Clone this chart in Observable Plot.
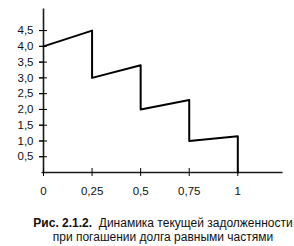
<!DOCTYPE html>
<html><head><meta charset="utf-8">
<script src="https://cdn.jsdelivr.net/npm/d3@7"></script>
<script src="https://cdn.jsdelivr.net/npm/@observablehq/plot@0.6"></script>
<style>
body{margin:0;background:#fff;font-family:"Liberation Sans",Arial,sans-serif;}
#cap{width:260px;text-align:center;font-size:12px;line-height:14px;color:#111;margin-top:16px;margin-left:33px;white-space:nowrap;}
</style></head><body>
<div id="chart"></div>
<div id="cap"><b>Рис. 2.1.2.</b>&nbsp; Динамика текущей задолженности<br>при погашении долга равными частями</div>
<script>
const xs = [0, 0.25, 0.25, 0.5, 0.5, 0.75, 0.75, 1, 1];
const ys = [4.0, 4.5, 3.0, 3.4, 2.0, 2.3, 1.0, 1.15, 0];
const yTicks = [0.5, 1, 1.5, 2, 2.5, 3, 3.5, 4, 4.5];
const yLabels = ["0,5","1,0","1,5","2,0","2,5","3,0","3,5","4,0","4,5"];
const xTicks = [0, 0.25, 0.5, 0.75, 1];
const xLabels = ["0","0,25","0,5","0,75","1"];
const xDomain = [0, 1.23];
const yDomain = [0, 5.2];
const data = xs.map((x,i)=>({x, y: ys[i]}));
const axes = [
  {x1: xDomain[0], y1: yDomain[0], x2: xDomain[0], y2: yDomain[1]},
  {x1: -0.01, y1: yDomain[0], x2: xDomain[1], y2: yDomain[0]}
];
const chart = Plot.plot({
  width: 294, height: 200,
  marginLeft: 43, marginRight: 12, marginTop: 8, marginBottom: 28,
  x: {domain: xDomain, label: null},
  y: {domain: yDomain, label: null},
  style: {fontFamily: '"Liberation Sans", Arial, sans-serif', fontSize: "11.5px", color: "#111"},
  marks: [
    Plot.link(axes, {x1: "x1", y1: "y1", x2: "x2", y2: "y2", stroke: "#1a1a1a", strokeWidth: 1.6}),
    Plot.axisY(yTicks, {tickSize: 4, tickFormat: (d,i)=>yLabels[i], tickPadding: 6, stroke: "#000", label: null}),
    Plot.axisY(yTicks, {tickSize: 8, dx: 4, text: null, stroke: "#000", label: null}),
    Plot.axisX(xTicks, {tickSize: 8, dy: -4, text: null, stroke: "#000", label: null}),
    Plot.axisX(xTicks, {tickSize: 0, tickFormat: (d,i)=>xLabels[i], tickPadding: 14, label: null}),
    Plot.line(data, {x: "x", y: "y", stroke: "#000", strokeWidth: 2})
  ]
});
document.getElementById("chart").appendChild(chart);
</script></body></html>
